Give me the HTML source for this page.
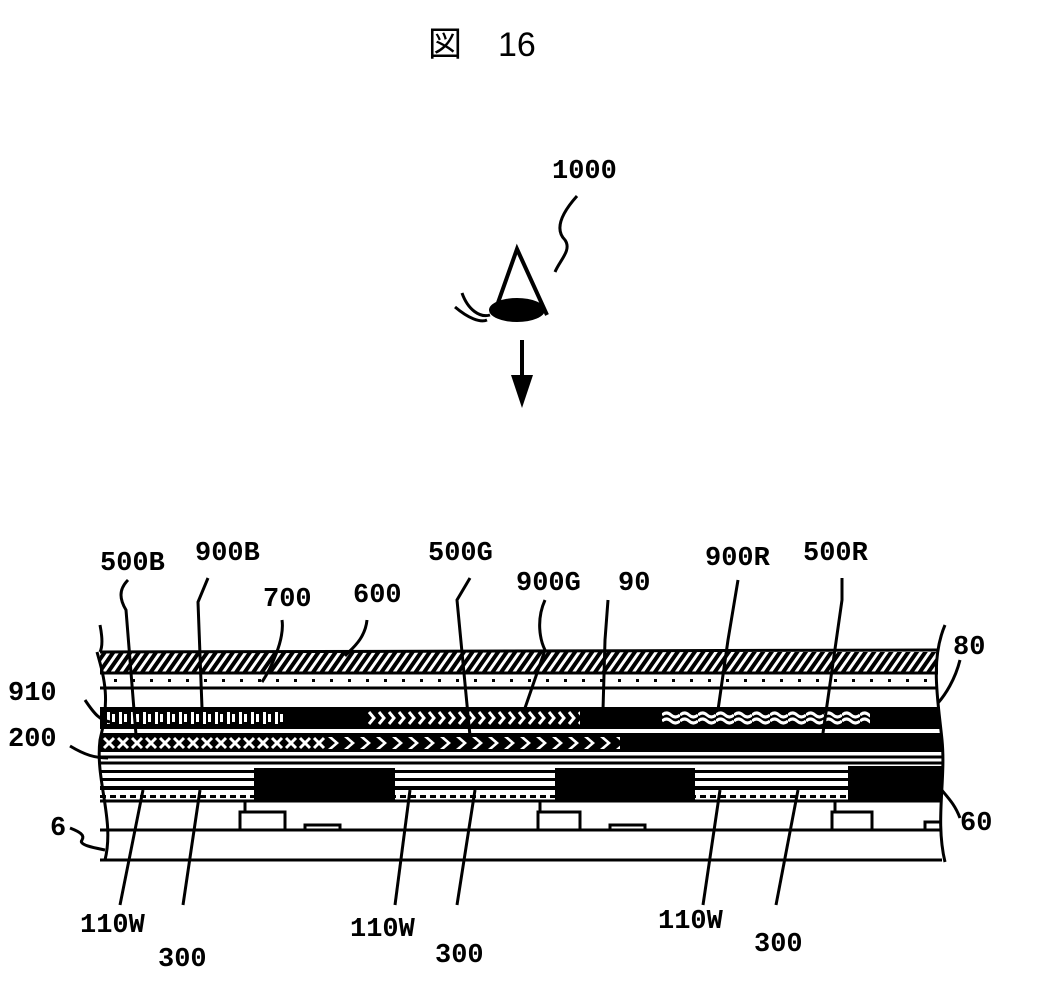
<!DOCTYPE html>
<html><head><meta charset="utf-8"><style>
html,body{margin:0;padding:0;background:#fff}
svg{display:block}
text{font-family:"Liberation Mono","DejaVu Sans Mono",monospace;font-weight:bold;font-size:27px;fill:#000}
</style></head><body>
<svg width="1048" height="986" viewBox="0 0 1048 986" xmlns="http://www.w3.org/2000/svg">
<defs>
<pattern id="hatch" width="7" height="7" patternUnits="userSpaceOnUse" patternTransform="rotate(35)">
<rect width="7" height="7" fill="#000"/><rect width="3" height="7" fill="#fff"/></pattern>
<pattern id="dots" x="0" y="673" width="18" height="14" patternUnits="userSpaceOnUse"><rect x="6" y="6" width="3" height="3" fill="#000"/></pattern>
<pattern id="pB" x="105" y="710" width="12" height="16" patternUnits="userSpaceOnUse"><rect width="12" height="16" fill="#000"/><rect x="2" y="2" width="3" height="12" fill="#fff"/><rect x="7" y="4" width="3" height="8" fill="#fff"/></pattern>
<pattern id="pG" x="367" y="710" width="10" height="16" patternUnits="userSpaceOnUse"><rect width="10" height="16" fill="#000"/><path d="M2 2 L7 8 L2 14" stroke="#fff" stroke-width="3" fill="none"/></pattern>
<pattern id="pR" x="662" y="710" width="18" height="16" patternUnits="userSpaceOnUse"><rect width="18" height="16" fill="#000"/><path d="M0 5 Q4.5 1 9 5 T18 5 M0 11 Q4.5 7 9 11 T18 11" stroke="#fff" stroke-width="3" fill="none"/></pattern>
<pattern id="xB" x="102" y="736" width="14" height="14" patternUnits="userSpaceOnUse"><rect width="14" height="14" fill="#000"/><path d="M2 2 L12 12 M12 2 L2 12" stroke="#fff" stroke-width="3"/></pattern>
<pattern id="chev" x="325" y="736" width="16" height="14" patternUnits="userSpaceOnUse"><rect width="16" height="14" fill="#000"/><path d="M3 1 L10 7 L3 13 L7 13 L14 7 L7 1Z" fill="#fff"/></pattern>
<pattern id="stripe" x="0" y="768" width="10" height="33" patternUnits="userSpaceOnUse"><rect width="10" height="33" fill="#fff"/><rect y="2" width="10" height="3" fill="#000"/><rect y="10" width="10" height="3" fill="#000"/><rect y="18" width="10" height="4" fill="#000"/><rect y="27" width="6" height="3" fill="#000"/></pattern>
</defs>

<text x="428" y="56" style="font-family:'Noto Sans CJK JP',sans-serif;font-size:34px;font-weight:normal">図</text>
<text x="498" y="56" style="font-family:'Liberation Sans',sans-serif;font-size:34px;font-weight:normal">16</text>

<text x="552" y="178">1000</text>
<path d="M577 196 C560 215,555 230,565 240 C572 250,560 260,555 272" stroke="#000" stroke-width="3" fill="none"/>
<path d="M494 314 L517 249 L547 315" stroke="#000" stroke-width="4" fill="none"/>
<ellipse cx="517" cy="310" rx="28" ry="12" fill="#000"/>
<path d="M462 293 C468 310,480 318,490 315 M455 307 C468 318,480 323,487 320" stroke="#000" stroke-width="3" fill="none"/>
<line x1="522" y1="340" x2="522" y2="378" stroke="#000" stroke-width="4"/>
<path d="M511 375 L533 375 L522 408Z" fill="#000"/>

<rect x="100" y="652" width="838" height="21" fill="url(#hatch)"/>
<rect x="100" y="673" width="838" height="14" fill="url(#dots)"/>
<rect x="100" y="707" width="840" height="22" fill="#000"/>
<rect x="105" y="710" width="178" height="16" fill="url(#pB)"/>
<rect x="367" y="710" width="213" height="16" fill="url(#pG)"/>
<rect x="662" y="710" width="208" height="16" fill="url(#pR)"/>
<rect x="100" y="733" width="842" height="19" fill="#000"/>
<rect x="102" y="736" width="223" height="14" fill="url(#xB)"/>
<rect x="325" y="736" width="295" height="14" fill="url(#chev)"/>
<rect x="100" y="768" width="842" height="33" fill="url(#stripe)"/>
<rect x="254" y="768" width="141" height="33" fill="#000"/>
<rect x="555" y="768" width="140" height="33" fill="#000"/>
<rect x="848" y="766" width="94" height="35" fill="#000"/>
<g stroke="#000" stroke-width="3" fill="none">
<line x1="100" y1="652" x2="938" y2="650"/>
<line x1="100" y1="673" x2="938" y2="673"/>
<line x1="100" y1="688" x2="938" y2="688"/>
<line x1="100" y1="757" x2="942" y2="757"/>
<line x1="100" y1="763" x2="942" y2="763"/>
<line x1="100" y1="801" x2="942" y2="801"/>
<line x1="100" y1="830" x2="942" y2="830"/>
<line x1="100" y1="860" x2="942" y2="860"/>
<path d="M240 830 V812 H285 V830 M305 830 V825 H340 V830"/>
<path d="M538 830 V812 H580 V830 M610 830 V825 H645 V830"/>
<path d="M832 830 V812 H872 V830 M925 830 V822 H940"/>
<path d="M245 812 V802 M540 812 V802 M835 812 V802"/>
<path d="M97 652 C105 680,110 700,100 740 C95 780,115 820,105 860"/>
<path d="M945 625 C930 660,938 700,942 740 C946 780,935 820,945 862"/>
<path d="M100 625 C103 640,102 648,100 652"/>
</g>

<text x="100" y="570">500B</text>
<text x="195" y="560">900B</text>
<text x="263" y="606">700</text>
<text x="353" y="602">600</text>
<text x="428" y="560">500G</text>
<text x="516" y="590">900G</text>
<text x="618" y="590">90</text>
<text x="705" y="565">900R</text>
<text x="803" y="560">500R</text>
<text x="953" y="654">80</text>
<text x="8" y="700">910</text>
<text x="8" y="746">200</text>
<text x="50" y="835">6</text>
<text x="960" y="830">60</text>
<text x="80" y="932">110W</text>
<text x="158" y="966">300</text>
<text x="350" y="936">110W</text>
<text x="435" y="962">300</text>
<text x="658" y="928">110W</text>
<text x="754" y="951">300</text>

<g stroke="#000" stroke-width="3" fill="none">
<path d="M128 580 C118 590,120 600,126 610 L136 735"/>
<path d="M208 578 L198 602 L202 708"/>
<path d="M282 620 C285 640,270 670,262 682"/>
<path d="M367 620 C365 640,350 650,345 656"/>
<path d="M470 578 L457 600 L470 736"/>
<path d="M545 600 C536 620,540 640,545 650 L525 708"/>
<path d="M608 600 L605 640 L603 710"/>
<path d="M738 580 L728 640 L718 710"/>
<path d="M842 578 L842 600 L822 740"/>
<path d="M960 660 C955 680,945 695,938 703"/>
<path d="M85 700 C95 715,100 720,110 722"/>
<path d="M70 746 C85 755,95 758,108 758"/>
<path d="M70 828 C80 832,85 835,82 840 C78 845,95 848,105 850"/>
<path d="M960 818 C955 805,950 800,940 788"/>
<path d="M120 905 L143 790"/>
<path d="M183 905 L200 790"/>
<path d="M395 905 L410 790"/>
<path d="M457 905 L475 790"/>
<path d="M703 905 L720 790"/>
<path d="M776 905 L798 790"/>
</g>
</svg>
</body></html>
